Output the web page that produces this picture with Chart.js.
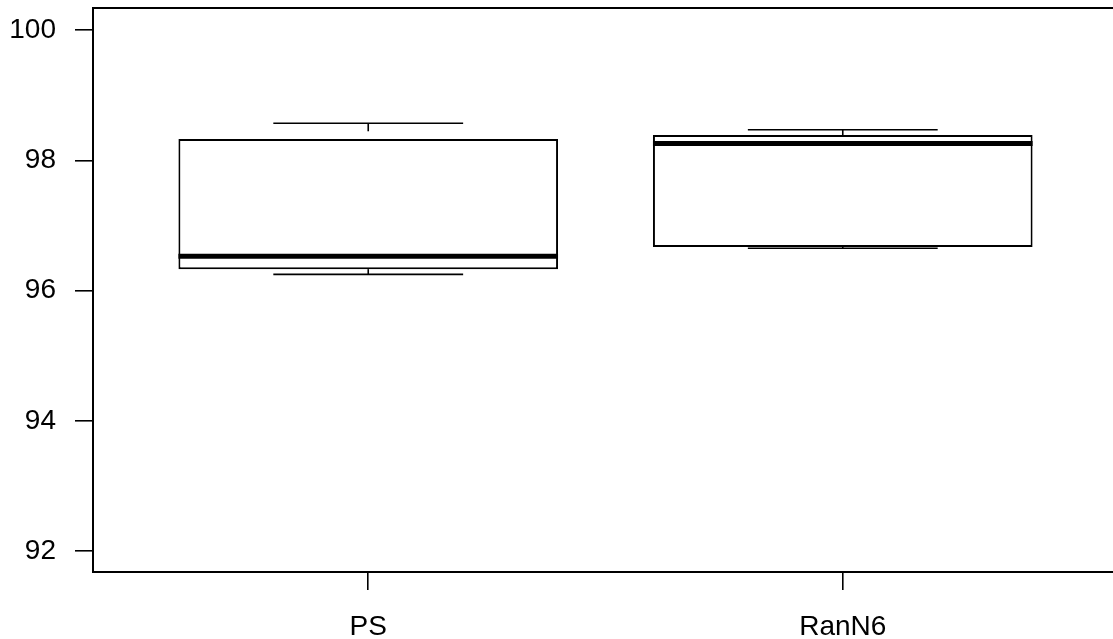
<!DOCTYPE html>
<html>
<head>
<meta charset="utf-8">
<script src="https://cdn.jsdelivr.net/npm/chart.js@4.4.1/dist/chart.umd.min.js"></script>
<style>
  html, body { margin: 0; padding: 0; background: #fff; overflow: hidden; }
  #wrap { width: 1113px; height: 639px; overflow: hidden; }
</style>
</head>
<body>
<div id="wrap"><canvas id="box" width="1130" height="639"></canvas></div>
<script>
// five-number summaries per group
const groups = ["PS", "RanN6"];
const whiskerLow = [96.25, 96.65];
const lowerQuartile = [96.33, 96.67];
const medians = [96.53, 98.26];
const upperQuartile = [98.33, 98.39];
const whiskerHigh = [98.57, 98.47];
const yTicks = [92, 94, 96, 98, 100];

const FONT = { family: "'Liberation Sans', Arial, Helvetica, sans-serif", size: 28 };

function seg(ctx, x1, y1, x2, y2) {
  ctx.beginPath();
  ctx.moveTo(x1, y1);
  ctx.lineTo(x2, y2);
  ctx.stroke();
}

// whiskers, caps, medians and the plot frame
const boxParts = {
  id: 'boxParts',
  afterDatasetsDraw(chart) {
    const { ctx, chartArea, scales: { y } } = chart;
    const bars = chart.getDatasetMeta(0).data;
    ctx.save();
    ctx.strokeStyle = '#000';
    ctx.lineCap = 'butt';
    groups.forEach((g, i) => {
      const bar = bars[i];
      const cx = bar.x;
      const half = bar.width / 2;
      const capHalf = half / 2;
      const yHi = y.getPixelForValue(whiskerHigh[i]);
      const yLo = y.getPixelForValue(whiskerLow[i]);
      const yQ3 = y.getPixelForValue(upperQuartile[i]);
      const yQ1 = y.getPixelForValue(lowerQuartile[i]);
      const yMed = y.getPixelForValue(medians[i]);

      ctx.lineWidth = 1.6;
      ctx.setLineDash([8, 8]);
      seg(ctx, cx, yHi, cx, yQ3);
      seg(ctx, cx, yLo, cx, yQ1);
      ctx.setLineDash([]);

      seg(ctx, cx - capHalf, yHi, cx + capHalf, yHi);
      seg(ctx, cx - capHalf, yLo, cx + capHalf, yLo);

      ctx.lineWidth = 5;
      seg(ctx, cx - half, yMed, cx + half, yMed);
    });
    ctx.lineWidth = 2;
    ctx.strokeRect(chartArea.left, chartArea.top, chartArea.right - chartArea.left, chartArea.bottom - chartArea.top);
    ctx.restore();
  }
};

new Chart(document.getElementById('box'), {
  type: 'bar',
  data: {
    datasets: [{
      data: groups.map((g, i) => ({ x: i + 1, y: [lowerQuartile[i], upperQuartile[i]] })),
      backgroundColor: '#fff',
      borderColor: '#000',
      borderWidth: 2,
      borderSkipped: false,
      categoryPercentage: 1,
      barPercentage: 0.8
    }]
  },
  plugins: [boxParts],
  options: {
    responsive: false,
    animation: false,
    layout: { padding: { top: 8, right: 12, left: 0, bottom: 0 } },
    plugins: { legend: { display: false }, tooltip: { enabled: false } },
    scales: {
      x: {
        type: 'linear',
        offset: false,
        min: 0.42,
        max: 2.58,
        afterBuildTicks: (scale) => { scale.ticks = groups.map((g, i) => ({ value: i + 1 })); },
        afterFit: (scale) => {
          scale.height = 67;
          scale.paddingLeft = 0;
          scale.paddingRight = 0;
        },
        border: { display: false },
        grid: { offset: false, drawOnChartArea: false, tickLength: 18, color: '#000', lineWidth: 1.6 },
        ticks: {
          color: '#000',
          font: FONT,
          padding: 20,
          maxRotation: 0,
          autoSkip: false,
          callback: (v) => groups[v - 1]
        }
      },
      y: {
        min: 91.68,
        max: 100.34,
        afterBuildTicks: (scale) => { scale.ticks = yTicks.map(v => ({ value: v })); },
        afterFit: (scale) => {
          scale.width = 93;
          scale.paddingTop = 0;
          scale.paddingBottom = 0;
        },
        border: { display: false },
        grid: { drawOnChartArea: false, tickLength: 18, color: '#000', lineWidth: 1.6 },
        ticks: { color: '#000', font: FONT, padding: 19 }
      }
    }
  }
});
</script>
</body>
</html>
